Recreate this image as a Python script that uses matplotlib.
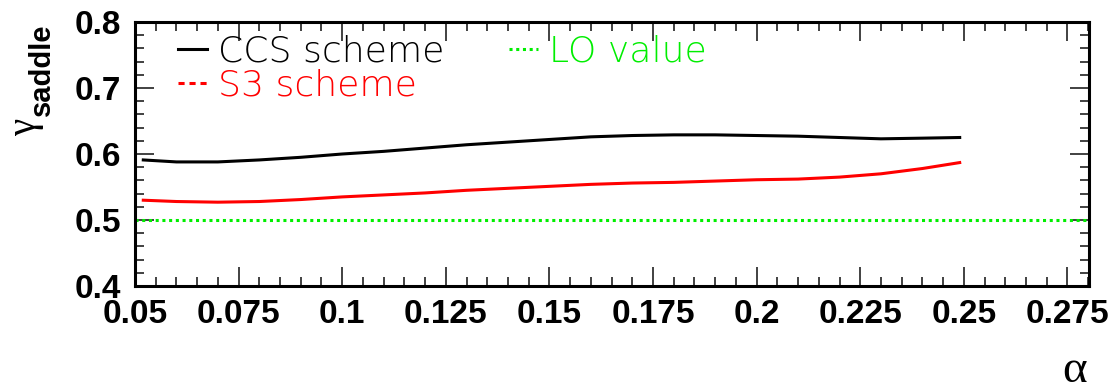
import matplotlib
matplotlib.use("Agg")
import matplotlib.pyplot as plt
import matplotlib.lines as mlines
from matplotlib import font_manager
from matplotlib.ticker import MultipleLocator

# values
alpha = [0.052, 0.06, 0.07, 0.08, 0.09, 0.10, 0.11, 0.12, 0.13, 0.14, 0.15,
         0.16, 0.17, 0.18, 0.19, 0.20, 0.21, 0.22, 0.23, 0.24, 0.249]
gamma_ccs = [0.591, 0.588, 0.588, 0.591, 0.595, 0.600, 0.604, 0.609, 0.614, 0.618, 0.622,
             0.626, 0.628, 0.629, 0.629, 0.628, 0.627, 0.625, 0.623, 0.624, 0.625]
gamma_s3 = [0.530, 0.528, 0.527, 0.528, 0.531, 0.535, 0.538, 0.541, 0.545, 0.548, 0.551,
            0.554, 0.556, 0.557, 0.559, 0.561, 0.562, 0.565, 0.570, 0.578, 0.587]
lo_value = 0.5

xticks = [0.05, 0.075, 0.1, 0.125, 0.15, 0.175, 0.2, 0.225, 0.25, 0.275]
xlabels = ["0.05", "0.075", "0.1", "0.125", "0.15", "0.175", "0.2", "0.225", "0.25", "0.275"]
yticks = [0.4, 0.5, 0.6, 0.7, 0.8]
labels = ["CCS scheme", "S3 scheme", "LO value"]


def thin_font():
    # look for a light weight of a wide sans font, the legend in the reference is thin
    for fam in ["DejaVu Sans", "Open Sans", "Noto Sans", "Roboto", "Lato", "Inter"]:
        for f in font_manager.fontManager.ttflist:
            w = f.weight if isinstance(f.weight, int) else 400
            if f.name == fam and w <= 300:
                return font_manager.FontProperties(fname=f.fname, size=26)
    return font_manager.FontProperties(family="DejaVu Sans", size=26)


W, H = 1116, 390
fig = plt.figure(figsize=(W / 100, H / 100), dpi=100)
ax = fig.add_axes([135 / W, 1 - 286 / H, (1089 - 135) / W, (286 - 22) / H])

ax.plot(alpha, gamma_ccs, color="black", lw=2.2)
ax.plot(alpha, gamma_s3, color="#ff0000", lw=2.2)
ax.axhline(lo_value, color="#00ee00", lw=2.2, ls=(0, (1, 1.2)))

ax.set_xlim(0.05, 0.2802)
ax.set_ylim(0.4, 0.8)
ax.set_xticks(xticks)
ax.set_xticklabels(xlabels)
ax.set_yticks(yticks)
ax.set_yticklabels([f"{v:.1f}" for v in yticks])
ax.xaxis.set_minor_locator(MultipleLocator(0.005))
ax.yaxis.set_minor_locator(MultipleLocator(0.02))

tick_fp = font_manager.FontProperties(family="Liberation Sans", weight="bold", size=24)
for lab in ax.get_xticklabels() + ax.get_yticklabels():
    lab.set_fontproperties(tick_fp)

ax.tick_params(which="both", direction="in", top=True, right=True, color="#333333")
ax.tick_params(which="major", length=13.5, width=1.3)
ax.tick_params(which="minor", length=6.8, width=1.3)
ax.tick_params(axis="x", pad=9.5)
ax.tick_params(axis="y", pad=10)
for sp in ax.spines.values():
    sp.set_linewidth(2.2)

# legend, ROOT style without frame
h_ccs = mlines.Line2D([], [], color="black", lw=2.2)
h_s3 = mlines.Line2D([], [], color="#ff0000", lw=2.2, ls=(0, (2, 1.6)))
h_lo = mlines.Line2D([], [], color="#00ee00", lw=2.2, ls=(0, (1, 1.2)))
leg = ax.legend([h_ccs, h_s3, h_lo], labels,
                ncol=2, frameon=False, loc="upper left",
                bbox_to_anchor=((178 - 135) / 954, (286 - 35) / 264),
                prop=thin_font(),
                handlelength=0.8, handletextpad=0.3, columnspacing=1.8,
                labelspacing=0.0, borderpad=0.0, borderaxespad=0.0)
for txt, c in zip(leg.get_texts(), ["black", "#ff0000", "#00ee00"]):
    txt.set_color(c)

# axis titles
fig.text(26 / W, 1 - 127 / H, "γ", rotation=90, family="Liberation Serif",
         size=28, ha="center", va="center")
fig.text(41.5 / W, 1 - 69.5 / H, "saddle", rotation=90, family="Liberation Sans",
         weight="bold", size=21, ha="center", va="center")
fig.text(1075 / W, 1 - 371 / H, "α", family="Liberation Serif", size=34,
         ha="center", va="center")

fig.savefig("out.png", dpi=100)
